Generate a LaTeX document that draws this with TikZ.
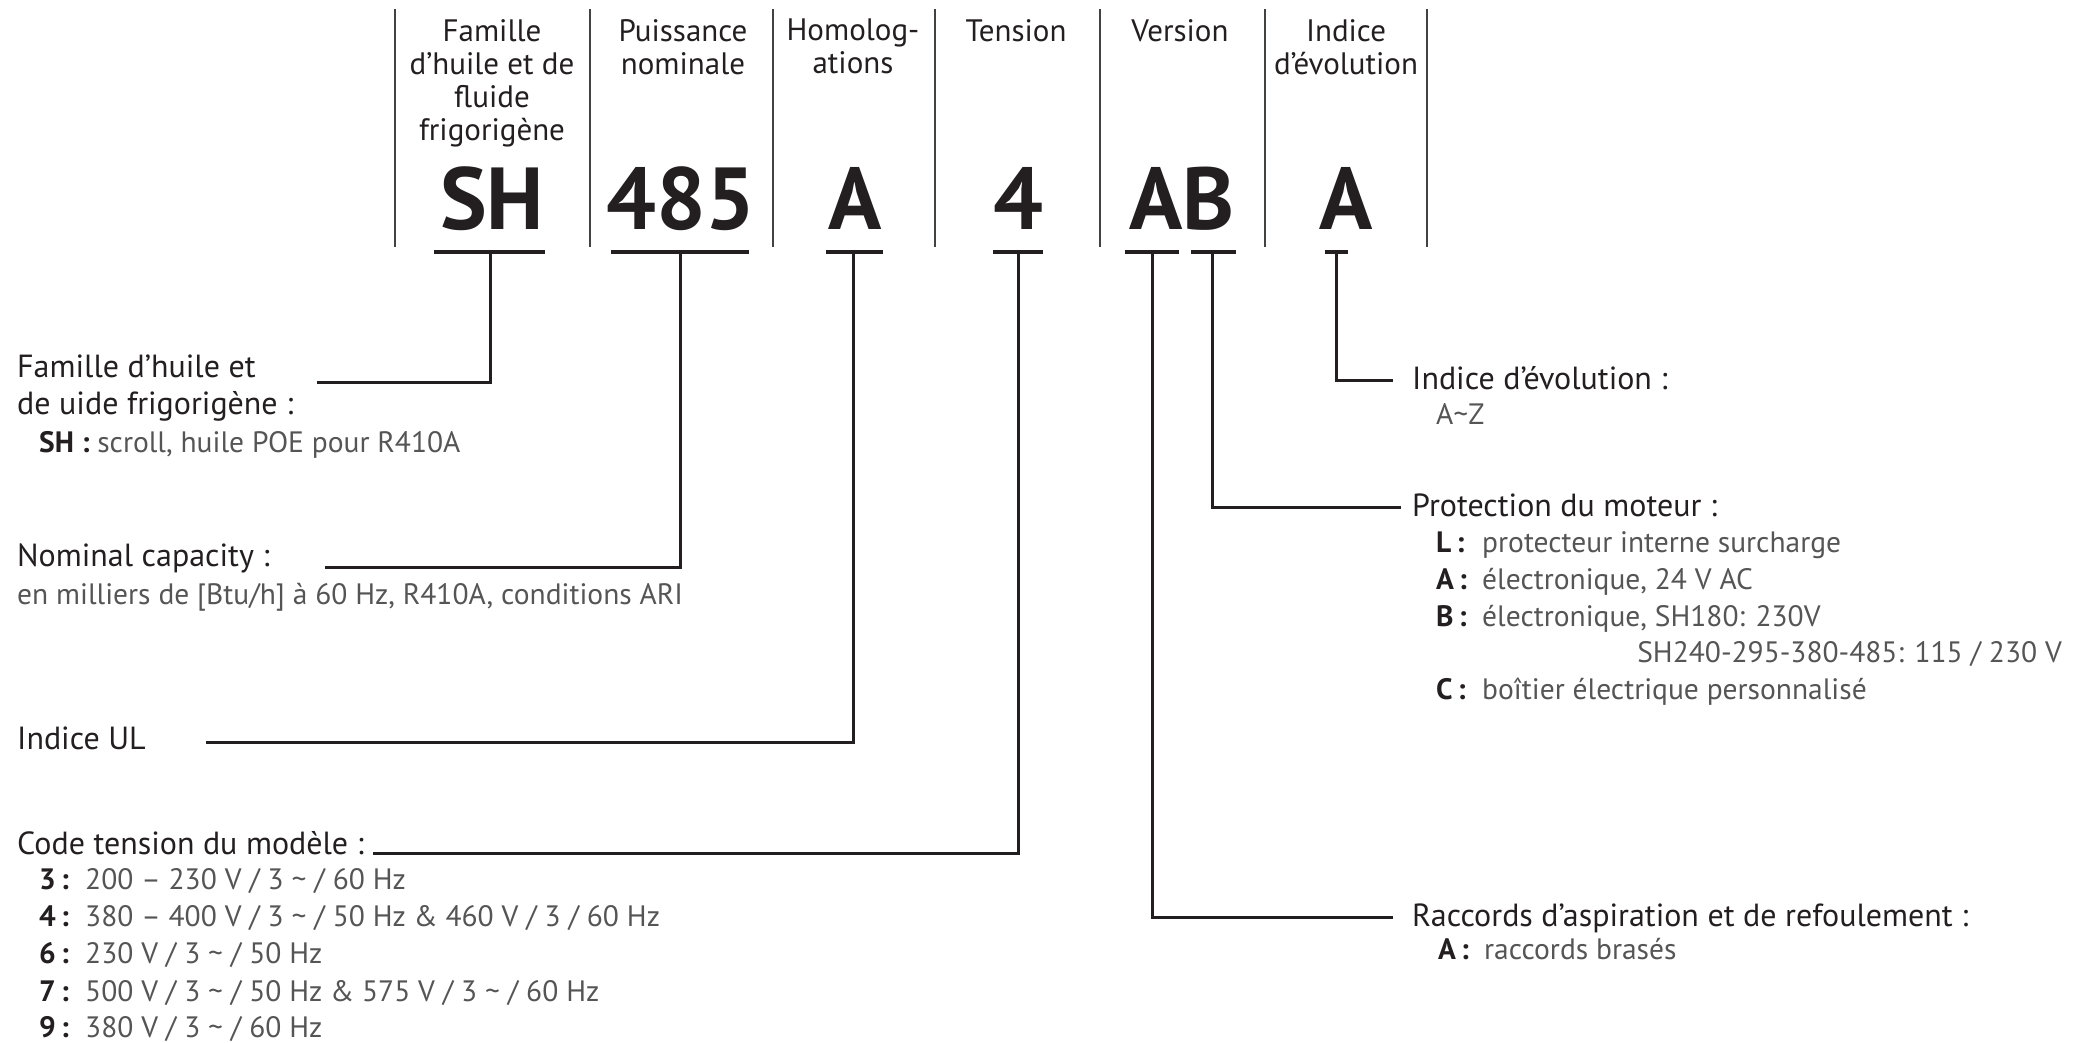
\documentclass[tikz,border=0pt]{standalone}
\usepackage{fontspec}
\setmainfont{PT Sans}
\definecolor{ink}{HTML}{231F20}
\definecolor{txtgray}{HTML}{555555}
\tikzset{
  sepline/.style={draw=ink!85, line width=1.8pt},
  uline/.style={draw=ink, line width=4pt},
  conn/.style={draw=ink, line width=3pt},
  hdr/.style={font=\fontsize{31}{33}\selectfont, text=ink, align=center, anchor=north, inner sep=0pt},
  code/.style={font=\fontsize{88}{88}\selectfont\bfseries, text=ink, inner sep=0pt, anchor=base},
  lbl/.style={font=\fontsize{32}{37.5}\selectfont, text=ink, anchor=base west, inner sep=0pt},
  val/.style={font=\fontsize{29.5}{37.5}\selectfont, text=txtgray, anchor=base west, inner sep=0pt},
}
\newcommand{\itm}[2]{\makebox[46pt][l]{\textcolor{ink}{\bfseries #1\,:}}#2}
\begin{document}
\begin{tikzpicture}[x=1pt,y=-1pt]
  \useasboundingbox (0,0) rectangle (2089,1043);
  % column separators
  \foreach \sx in {395,590,773,935,1100,1265,1427}
    \draw[sepline] (\sx,9) -- (\sx,247);
  % column headers
  \node[hdr] (h-fam) at (492,19) {Famille\\d’huile et de\\fluide\\frigorigène};
  \node[hdr] (h-cap) at (683,19) {Puissance\\nominale};
  \node[hdr] (h-hom) at (853,19) {Homolog-\\ations};
  \node[hdr] (h-ten) at (1016,19) {Tension};
  \node[hdr] (h-ver) at (1180,19) {Version};
  \node[hdr] (h-evo) at (1346,19) {Indice\\d’évolution};
  % model code
  \node[code] (c-sh) at (492,230) {SH};
  \node[code] (c-cap) at (681,230) {485};
  \node[code] (c-hom) at (855,230) {A};
  \node[code] (c-ten) at (1018,230) {4};
  \node[code] (c-ver) at (1182,230) {AB};
  \node[code] (c-evo) at (1346,230) {A};
  % underlines
  \draw[uline] (434,252) -- (545,252);
  \draw[uline] (611,252) -- (749,252);
  \draw[uline] (826,252) -- (883,252);
  \draw[uline] (993,252) -- (1043,252);
  \draw[uline] (1125,252) -- (1179,252);
  \draw[uline] (1191,252) -- (1236,252);
  \draw[uline] (1325,252) -- (1348,252);
  % stem tops and free ends
  \coordinate (s-sh) at (490,252);  \coordinate (e-fam) at (317,382);
  \coordinate (s-cap) at (680,252); \coordinate (e-cap) at (325,567);
  \coordinate (s-hom) at (853,252); \coordinate (e-hom) at (206,742);
  \coordinate (s-ten) at (1018,252); \coordinate (e-ten) at (373,853);
  \coordinate (s-va) at (1152,252); \coordinate (e-va) at (1393,917);
  \coordinate (s-vb) at (1212,252); \coordinate (e-vb) at (1401,507);
  \coordinate (s-evo) at (1336,252); \coordinate (e-evo) at (1393,380);
  \draw[conn] (s-sh) |- (e-fam);
  \draw[conn] (s-cap) |- (e-cap);
  \draw[conn] (s-hom) |- (e-hom);
  \draw[conn] (s-ten) |- (e-ten);
  \draw[conn] (s-va) |- (e-va);
  \draw[conn] (s-vb) |- (e-vb);
  \draw[conn] (s-evo) |- (e-evo);
  % left labels
  \node[lbl] (fam1) at (17,377) {Famille d’huile et};
  \node[lbl] (fam2) at (17,414) {de uide frigorigène :};
  \node[val] (fam3) at (39,452) {{\color{ink}\bfseries SH :} scroll, huile POE pour R410A};
  \node[lbl] (cap1) at (17,566) {Nominal capacity :};
  \node[val] (cap2) at (17,604) {en milliers de [Btu/h] à 60 Hz, R410A, conditions ARI};
  \node[lbl] (hom1) at (17,749) {Indice UL};
  \node[lbl] (ten1) at (17,854) {Code tension du modèle :};
  \node[val] (ten3) at (39,889) {\itm{3}{200 – 230 V / 3 \textasciitilde\ / 60 Hz}};
  \node[val] (ten4) at (39,926) {\itm{4}{380 – 400 V / 3 \textasciitilde\ / 50 Hz \& 460 V / 3 / 60 Hz}};
  \node[val] (ten6) at (39,963) {\itm{6}{230 V / 3 \textasciitilde\ / 50 Hz}};
  \node[val] (ten7) at (39,1001) {\itm{7}{500 V / 3 \textasciitilde\ / 50 Hz \& 575 V / 3 \textasciitilde\ / 60 Hz}};
  \node[val] (ten9) at (39,1037) {\itm{9}{380 V / 3 \textasciitilde\ / 60 Hz}};
  % right labels
  \node[lbl] (evo1) at (1412,389) {Indice d’évolution :};
  \node[val] (evo2) at (1436,424) {A\textasciitilde Z};
  \node[lbl] (mot1) at (1412,516) {Protection du moteur :};
  \node[val] (motL) at (1436,552) {\itm{L}{protecteur interne surcharge}};
  \node[val] (motA) at (1436,589) {\itm{A}{électronique, 24 V AC}};
  \node[val] (motB) at (1436,626) {\itm{B}{électronique, SH180: 230V}};
  \node[val, anchor=base east] (motB2) at (2062,662) {SH240-295-380-485: 115 / 230 V};
  \node[val] (motC) at (1436,699) {\itm{C}{boîtier électrique personnalisé}};
  \node[lbl] (rac1) at (1412,926) {Raccords d’aspiration et de refoulement :};
  \node[val] (rac2) at (1438,959) {\itm{A}{raccords brasés}};
\end{tikzpicture}
\end{document}
